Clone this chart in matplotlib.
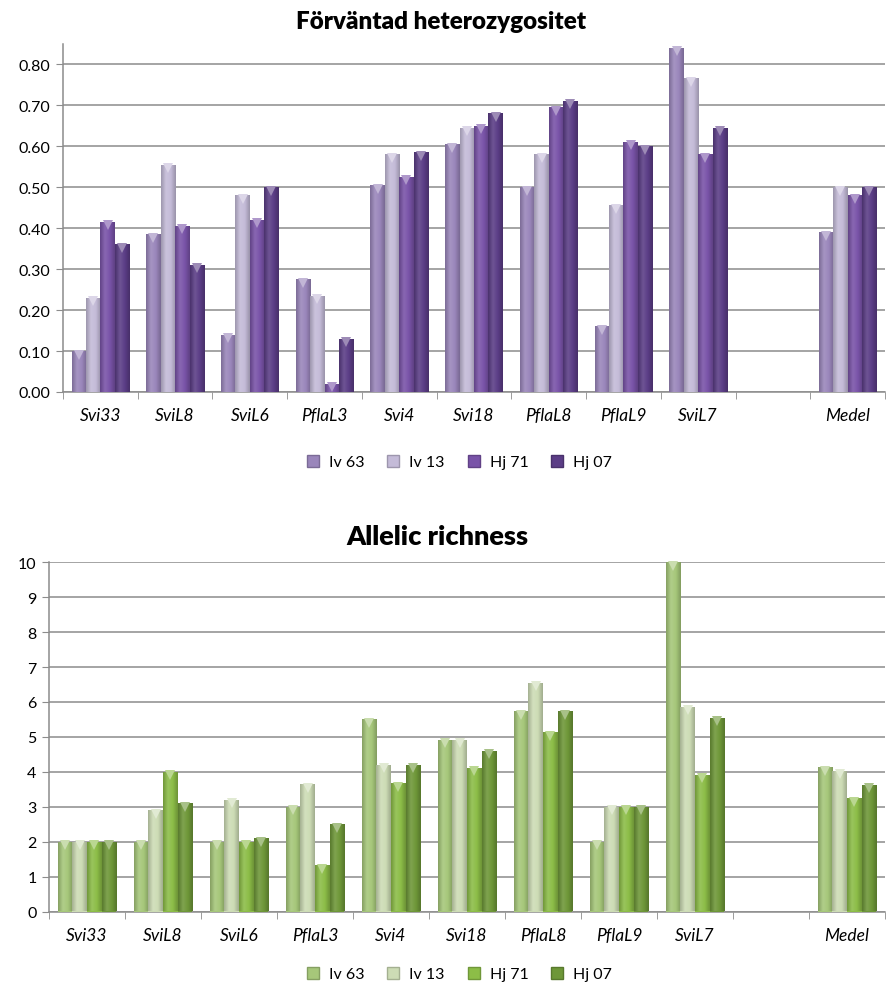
import numpy as np
import matplotlib
matplotlib.use('Agg')
from matplotlib import pyplot as plt
from matplotlib import transforms
from matplotlib.colors import LinearSegmentedColormap, to_rgb
from matplotlib.lines import Line2D

# Data
categories = ['Svi33', 'SviL8', 'SviL6', 'PflaL3', 'Svi4', 'Svi18', 'PflaL8', 'PflaL9', 'SviL7', '', 'Medel']
series = ['Iv 63', 'Iv 13', 'Hj 71', 'Hj 07']

het_iv63 = [0.10, 0.385, 0.14, 0.275, 0.505, 0.605, 0.50, 0.16, 0.84, np.nan, 0.39]
het_iv13 = [0.23, 0.555, 0.48, 0.235, 0.58, 0.645, 0.58, 0.455, 0.765, np.nan, 0.50]
het_hj71 = [0.415, 0.405, 0.42, 0.02, 0.525, 0.65, 0.695, 0.61, 0.58, np.nan, 0.48]
het_hj07 = [0.36, 0.31, 0.50, 0.13, 0.585, 0.68, 0.71, 0.60, 0.645, np.nan, 0.50]

ar_iv63 = [2.0, 2.0, 2.0, 3.0, 5.5, 4.92, 5.73, 2.0, 10.0, np.nan, 4.13]
ar_iv13 = [2.0, 2.9, 3.2, 3.65, 4.2, 4.92, 6.55, 3.0, 5.87, np.nan, 4.03]
ar_hj71 = [2.0, 4.0, 2.0, 1.33, 3.67, 4.12, 5.13, 3.0, 3.92, np.nan, 3.25]
ar_hj07 = [2.0, 3.1, 2.1, 2.5, 4.2, 4.6, 5.73, 3.0, 5.55, np.nan, 3.63]

purples = ['#9a86bb', '#c4bbd8', '#7953a8', '#5b3d86']
greens = ['#a6c77a', '#cddcb5', '#8cbd47', '#6e9738']

plt.rcParams['font.family'] = ['Lato', 'DejaVu Sans']
GRID = '#8c8c8c'


def shade(c, f):
    r, g, b = to_rgb(c)
    if f < 1:
        return (r * f, g * f, b * f)
    return (r + (1 - r) * (f - 1), g + (1 - g) * (f - 1), b + (1 - b) * (f - 1))


def draw_chart(ax, data, colors, ylim, yticks, yfmt, title, title_xy, title_size, legend_y, fig):
    x = np.arange(len(categories))
    w = 0.193
    bevel = transforms.offset_copy(ax.transData, fig=fig, y=-3.5, units='dots')
    for i, vals in enumerate(data):
        bars = ax.bar(x + (i - 1.5) * w, vals, w, color=colors[i], zorder=3, linewidth=0)
        cmap = LinearSegmentedColormap.from_list(
            'g', [shade(colors[i], 0.8), shade(colors[i], 1.12), colors[i], shade(colors[i], 0.78)])
        grad = np.linspace(0, 1, 64).reshape(1, -1)
        for p in bars:
            h = p.get_height()
            if np.isnan(h):
                continue
            x0 = p.get_x()
            im = ax.imshow(grad, extent=[x0, x0 + p.get_width(), 0, h], aspect='auto',
                           cmap=cmap, zorder=4, interpolation='bicubic')
            im.set_clip_path(p)
        # bevel marker just inside the bar top
        ax.plot(x + (i - 1.5) * w, vals, linestyle='none', marker='v', markersize=7,
                color=shade(colors[i], 1.4), markeredgewidth=0, zorder=5,
                transform=bevel, clip_on=False)
    ax.set_xlim(-0.5, len(categories) - 0.5)
    ax.set_ylim(*ylim)
    ax.set_yticks(yticks)
    ax.set_yticklabels([yfmt.format(v) for v in yticks], fontsize=11.5)
    ax.yaxis.grid(True, color=GRID, linewidth=1.1, zorder=0)
    ax.set_axisbelow(True)
    ax.set_xticks(x)
    ax.set_xticklabels(categories, fontstyle='italic', fontsize=12.5)
    ax.set_xticks(np.arange(len(categories) + 1) - 0.5, minor=True)
    ax.tick_params(axis='x', which='major', length=0, pad=11)
    ax.tick_params(axis='x', which='minor', length=5, color=GRID)
    ax.tick_params(axis='y', length=5, color=GRID, pad=4)
    for s in ['top', 'right']:
        ax.spines[s].set_visible(False)
    for s in ['left', 'bottom']:
        ax.spines[s].set_color(GRID)
        ax.spines[s].set_linewidth(1.1)
    fig.text(title_xy[0], title_xy[1], title, ha='center', va='center', fontsize=title_size,
             fontweight='heavy')
    handles = [Line2D([], [], linestyle='none', marker='s', markersize=8, color=c,
                      markeredgecolor=shade(c, 0.8)) for c in colors]
    fig.legend(handles, series, loc='center', bbox_to_anchor=(0.517, legend_y), ncol=4,
               frameon=False, fontsize=11.5, handletextpad=0.5, columnspacing=1.3,
               handlelength=1.0)


fig = plt.figure(figsize=(8.87, 9.87), dpi=100)
W, H = 887.0, 987.0

ax1 = fig.add_axes([63 / W, 1 - 393 / H, 822 / W, 348 / H])
draw_chart(ax1, [het_iv63, het_iv13, het_hj71, het_hj07], purples, (0, 0.849),
           np.arange(0, 0.81, 0.1), '{:.2f}', 'Förväntad heterozygositet',
           (441 / W, 1 - 22 / H), 17.4, 1 - 463 / H, fig)

ax2 = fig.add_axes([49 / W, 1 - 912.5 / H, 836 / W, 349.2 / H])
draw_chart(ax2, [ar_iv63, ar_iv13, ar_hj71, ar_hj07], greens, (0, 10),
           np.arange(0, 11, 1), '{:.0f}', 'Allelic richness',
           (437 / W, 1 - 537 / H), 19.5, 1 - 975 / H, fig)

fig.savefig('out.png', dpi=100)
